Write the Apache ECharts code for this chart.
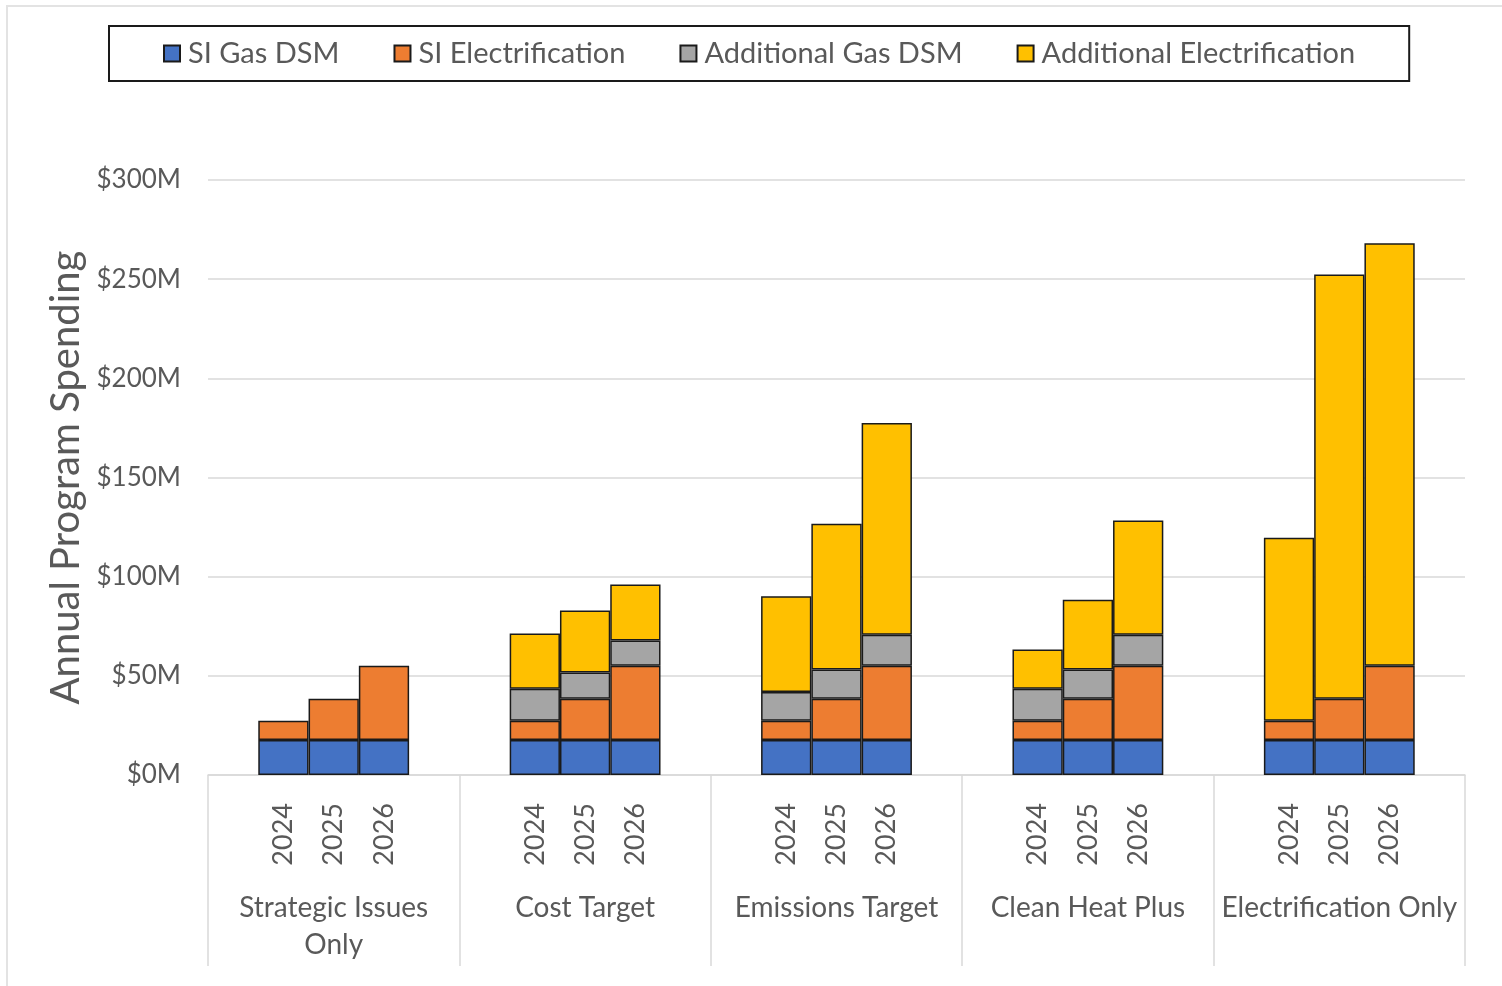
<!DOCTYPE html>
<html>
<head>
<meta charset="utf-8">
<title>Annual Program Spending</title>
<script src="https://cdn.jsdelivr.net/npm/echarts@6/dist/echarts.min.js"></script>
<style>
    html, body { margin: 0; padding: 0; background: #fff; }
    #main { width: 1502px; height: 986px; }
</style>
</head>
<body>
<div id="main"></div>
<script>
// 数据
var groups = ['Strategic Issues\nOnly', 'Cost Target', 'Emissions Target', 'Clean Heat Plus', 'Electrification Only'];
var years = ['2024', '2025', '2026'];
var siGasDsm = [17.6, 17.6, 17.6, 17.6, 17.6, 17.6, 17.6, 17.6, 17.6, 17.6, 17.6, 17.6, 17.6, 17.6, 17.6];
var siElectrification = [9.8, 20.9, 37.5, 9.8, 20.9, 37.5, 9.8, 20.9, 37.5, 9.8, 20.9, 37.5, 9.8, 20.9, 37.5];
var addGasDsm = [null, null, null, 16.1, 13.2, 12.7, 14.4, 14.7, 15.6, 16.1, 14.7, 15.6, null, null, null];
var addElectrification = [null, null, null, 27.8, 31.2, 28.2, 48.3, 73.5, 106.8, 19.8, 35.2, 57.6, 92.2, 213.8, 213.0];
var yMin = 0, yMax = 300, yStep = 50;

var FONT = 'Lato, "Open Sans", sans-serif';
var TEXT = '#595959';
var GRID = '#d9d9d9';

// each group: empty slot, 3 years, empty slot
var slots = [];
groups.forEach(function () {
    slots.push('');
    years.forEach(function (y) { slots.push(y); });
    slots.push('');
});
function toSlots(vals) {
    var out = [];
    groups.forEach(function (g, i) {
        out.push(null, vals[3 * i], vals[3 * i + 1], vals[3 * i + 2], null);
    });
    return out;
}

function barSeries(name, color, vals) {
    return {
        name: name,
        type: 'bar',
        stack: 'total',
        barCategoryGap: '0%',
        itemStyle: { color: color, borderColor: '#1a1a1a', borderWidth: 1.5 },
        emphasis: { disabled: true },
        data: toSlots(vals)
    };
}

var chart = echarts.init(document.getElementById('main'));
var option = {
    backgroundColor: '#fff',
    animation: false,
    textStyle: { fontFamily: FONT },
    graphic: [{
        type: 'rect',
        shape: { x: 7, y: 6, width: 1520, height: 1000 },
        style: { fill: 'none', stroke: '#e3e3e3', lineWidth: 2 },
        silent: true
    }],
    legend: {
        left: 109,
        top: 26,
        padding: [13, 54, 13, 54],
        itemGap: 54,
        itemWidth: 16,
        itemHeight: 16,
        borderColor: '#1a1a1a',
        borderWidth: 2,
        icon: 'rect',
        textStyle: { color: TEXT, fontSize: 29, fontFamily: FONT, padding: [0, 0, 0, 3] },
        data: ['SI Gas DSM', 'SI Electrification', 'Additional Gas DSM', 'Additional Electrification']
    },
    grid: { left: 208, right: 37, top: 180, bottom: 211 },
    xAxis: [
        {
            type: 'category',
            data: slots,
            axisLine: { lineStyle: { color: GRID, width: 1.5 } },
            axisTick: { show: false },
            axisLabel: {
                interval: 0,
                rotate: 90,
                margin: 28,
                color: TEXT,
                fontSize: 27,
                fontFamily: FONT
            }
        },
        {
            type: 'category',
            data: groups,
            position: 'bottom',
            axisLine: { show: false },
            axisTick: { show: true, length: 191, lineStyle: { color: GRID, width: 1.5 } },
            axisLabel: {
                interval: 0,
                margin: 114,
                color: TEXT,
                fontSize: 28,
                lineHeight: 37,
                fontFamily: FONT
            }
        }
    ],
    yAxis: {
        type: 'value',
        min: yMin,
        max: yMax,
        interval: yStep,
        name: 'Annual Program Spending',
        nameLocation: 'middle',
        nameGap: 122,
        nameTextStyle: { color: TEXT, fontSize: 40, fontFamily: FONT },
        axisLine: { show: false },
        axisTick: { show: false },
        splitLine: { lineStyle: { color: GRID, width: 1.5 } },
        axisLabel: {
            margin: 27,
            color: TEXT,
            fontSize: 26,
            fontFamily: FONT,
            formatter: '${value}M'
        }
    },
    series: [
        barSeries('SI Gas DSM', '#4472C4', siGasDsm),
        barSeries('SI Electrification', '#ED7D31', siElectrification),
        barSeries('Additional Gas DSM', '#A5A5A5', addGasDsm),
        barSeries('Additional Electrification', '#FFC000', addElectrification)
    ]
};
chart.setOption(option);
</script>
</body>
</html>
